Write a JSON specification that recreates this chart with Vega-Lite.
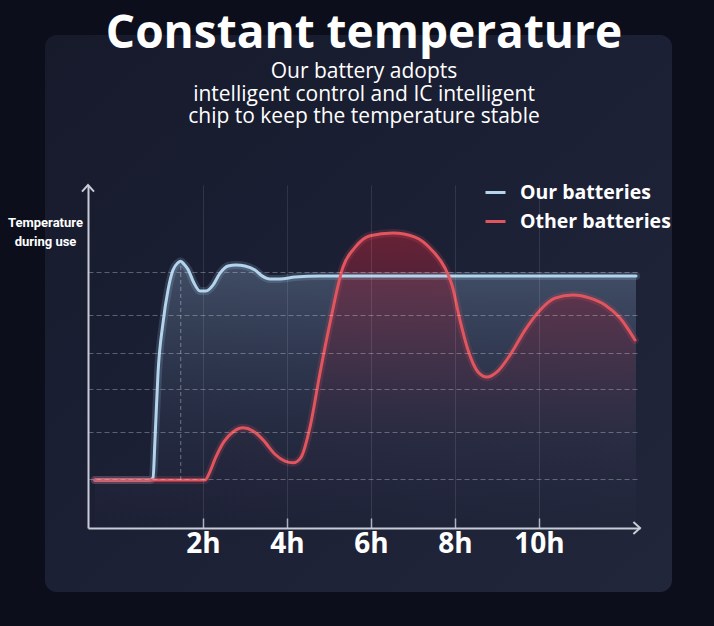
{
  "$schema": "https://vega.github.io/schema/vega-lite/v6.json",
  "width": 552,
  "height": 343,
  "autosize": {"type": "none"},
  "padding": {"left": 88, "top": 185, "right": 74, "bottom": 98},
  "background": "#0c0f1b",
  "config": {"view": {"stroke": null}, "font": "Open Sans"},
  "title": {
    "text": "Constant temperature",
    "subtitle": ["Our battery adopts", "intelligent control and IC intelligent", "chip to keep the temperature stable"],
    "anchor": "middle",
    "font": "Open Sans",
    "fontSize": 46,
    "fontWeight": "bold",
    "color": "#ffffff",
    "subtitleFont": "Open Sans",
    "subtitleFontSize": 21,
    "subtitleColor": "#ffffff",
    "subtitleLineHeight": 22.5,
    "subtitlePadding": 3,
    "offset": -93
  },
  "datasets": {
    "curves": [
      {"series": "Our batteries", "t": -0.571, "v": 14.0},
      {"series": "Our batteries", "t": 0.738, "v": 14.0},
      {"series": "Our batteries", "t": 0.81, "v": 14.6},
      {"series": "Our batteries", "t": 0.857, "v": 25.7},
      {"series": "Our batteries", "t": 0.929, "v": 45.2},
      {"series": "Our batteries", "t": 1.048, "v": 59.8},
      {"series": "Our batteries", "t": 1.167, "v": 69.4},
      {"series": "Our batteries", "t": 1.286, "v": 75.2},
      {"series": "Our batteries", "t": 1.4, "v": 77.3},
      {"series": "Our batteries", "t": 1.47, "v": 77.8},
      {"series": "Our batteries", "t": 1.55, "v": 76.9},
      {"series": "Our batteries", "t": 1.643, "v": 75.4},
      {"series": "Our batteries", "t": 1.786, "v": 71.4},
      {"series": "Our batteries", "t": 1.929, "v": 69.1},
      {"series": "Our batteries", "t": 2.071, "v": 69.1},
      {"series": "Our batteries", "t": 2.238, "v": 70.8},
      {"series": "Our batteries", "t": 2.405, "v": 74.3},
      {"series": "Our batteries", "t": 2.595, "v": 76.4},
      {"series": "Our batteries", "t": 2.786, "v": 76.7},
      {"series": "Our batteries", "t": 3.0, "v": 76.4},
      {"series": "Our batteries", "t": 3.238, "v": 75.2},
      {"series": "Our batteries", "t": 3.405, "v": 73.5},
      {"series": "Our batteries", "t": 3.595, "v": 72.6},
      {"series": "Our batteries", "t": 3.833, "v": 72.6},
      {"series": "Our batteries", "t": 4.19, "v": 73.2},
      {"series": "Our batteries", "t": 4.786, "v": 73.5},
      {"series": "Our batteries", "t": 12.31, "v": 73.5},
      {"series": "Other batteries", "t": -0.571, "v": 14.0},
      {"series": "Other batteries", "t": 2.048, "v": 14.0},
      {"series": "Other batteries", "t": 2.15, "v": 16.0},
      {"series": "Other batteries", "t": 2.3, "v": 20.5},
      {"series": "Other batteries", "t": 2.5, "v": 25.2},
      {"series": "Other batteries", "t": 2.714, "v": 28.0},
      {"series": "Other batteries", "t": 2.952, "v": 29.2},
      {"series": "Other batteries", "t": 3.19, "v": 28.3},
      {"series": "Other batteries", "t": 3.43, "v": 25.7},
      {"series": "Other batteries", "t": 3.714, "v": 21.5},
      {"series": "Other batteries", "t": 3.95, "v": 19.5},
      {"series": "Other batteries", "t": 4.15, "v": 19.0},
      {"series": "Other batteries", "t": 4.33, "v": 20.5},
      {"series": "Other batteries", "t": 4.548, "v": 29.4},
      {"series": "Other batteries", "t": 4.786, "v": 45.2},
      {"series": "Other batteries", "t": 5.024, "v": 59.8},
      {"series": "Other batteries", "t": 5.333, "v": 76.1},
      {"series": "Other batteries", "t": 5.619, "v": 81.8},
      {"series": "Other batteries", "t": 5.976, "v": 85.2},
      {"series": "Other batteries", "t": 6.524, "v": 86.0},
      {"series": "Other batteries", "t": 7.048, "v": 84.8},
      {"series": "Other batteries", "t": 7.452, "v": 81.0},
      {"series": "Other batteries", "t": 7.762, "v": 75.8},
      {"series": "Other batteries", "t": 7.929, "v": 70.8},
      {"series": "Other batteries", "t": 8.119, "v": 60.6},
      {"series": "Other batteries", "t": 8.31, "v": 51.9},
      {"series": "Other batteries", "t": 8.548, "v": 45.5},
      {"series": "Other batteries", "t": 8.762, "v": 44.0},
      {"series": "Other batteries", "t": 9.0, "v": 45.5},
      {"series": "Other batteries", "t": 9.31, "v": 50.4},
      {"series": "Other batteries", "t": 9.667, "v": 57.7},
      {"series": "Other batteries", "t": 10.024, "v": 63.5},
      {"series": "Other batteries", "t": 10.381, "v": 67.0},
      {"series": "Other batteries", "t": 10.81, "v": 67.9},
      {"series": "Other batteries", "t": 11.214, "v": 67.0},
      {"series": "Other batteries", "t": 11.571, "v": 65.0},
      {"series": "Other batteries", "t": 11.929, "v": 61.2},
      {"series": "Other batteries", "t": 12.286, "v": 54.8}
    ]
  },
  "layer": [
    {
      "data": {"values": [{"x0": -1.762, "x1": 13.167, "y0": -18.66, "y1": 143.7}]},
      "mark": {
        "type": "rect",
        "cornerRadius": 12,
        "fill": {"gradient": "linear", "x1": 0, "y1": 0, "x2": 1, "y2": 1,
          "stops": [{"offset": 0, "color": "#161a2b"}, {"offset": 0.5, "color": "#1c2035"}, {"offset": 1, "color": "#21263b"}]}
      },
      "encoding": {
        "x": {"field": "x0", "type": "quantitative"},
        "x2": {"field": "x1"},
        "y": {"field": "y0", "type": "quantitative"},
        "y2": {"field": "y1"}
      }
    },
    {
      "data": {"name": "curves"},
      "encoding": {
        "x": {
          "field": "t",
          "type": "quantitative",
          "scale": {"domain": [-0.738, 12.405], "nice": false, "zero": false},
          "axis": {
            "values": [2, 4, 6, 8, 10],
            "labelExpr": "datum.value + 'h'",
            "title": null,
            "domainColor": "#c8ccd6",
            "domainWidth": 2,
            "ticks": true,
            "tickColor": "#aeb3bf",
            "tickSize": -10,
            "tickWidth": 1.5,
            "labelColor": "#ffffff",
            "labelFont": "Open Sans",
            "labelFontSize": 28,
            "labelFontWeight": "bold",
            "labelPadding": 12,
            "labelBaseline": "top",
            "grid": true,
            "gridColor": "#ffffff",
            "gridOpacity": 0.1,
            "gridWidth": 1,
            "zindex": 1
          }
        },
        "y": {
          "field": "v",
          "type": "quantitative",
          "scale": {"domain": [0, 100], "nice": false, "zero": false},
          "axis": {
            "values": [14.3, 28, 40.5, 51, 62.1, 74.6],
            "labels": false,
            "ticks": false,
            "domainColor": "#c8ccd6",
            "domainWidth": 2,
            "grid": true,
            "gridColor": "#d8dce6",
            "gridOpacity": 0.35,
            "gridDash": [5, 3],
            "title": ["Temperature", "during use"],
            "titleAngle": 0,
            "titleAlign": "center",
            "titleBaseline": "top",
            "titleX": -43,
            "titleY": 31,
            "titleFont": "Roboto",
            "titleFontSize": 13,
            "titleFontWeight": "bold",
            "titleColor": "#ffffff",
            "titleLineHeight": 19,
            "zindex": 1
          }
        }
      },
      "layer": [
        {
          "transform": [{"filter": "datum.series == 'Our batteries'"}],
          "mark": {
            "type": "area",
            "interpolate": "monotone",
            "fill": {"gradient": "linear", "x1": 0, "y1": 0, "x2": 0, "y2": 1,
              "stops": [{"offset": 0, "color": "rgba(120,145,175,0.42)"}, {"offset": 0.55, "color": "rgba(90,110,140,0.18)"}, {"offset": 1, "color": "rgba(60,70,95,0.02)"}]}
          },
          "encoding": {"y2": {"datum": 0}}
        },
        {
          "transform": [{"filter": "datum.series == 'Other batteries'"}],
          "mark": {
            "type": "area",
            "interpolate": "monotone",
            "fill": {"gradient": "linear", "x1": 0, "y1": 0, "x2": 0, "y2": 1,
              "stops": [{"offset": 0, "color": "rgba(130,35,55,0.75)"}, {"offset": 0.35, "color": "rgba(110,35,58,0.4)"}, {"offset": 0.7, "color": "rgba(80,35,60,0.08)"}, {"offset": 1, "color": "rgba(60,35,60,0.0)"}]}
          },
          "encoding": {"y2": {"datum": 0}}
        },
        {
          "mark": {"type": "line", "interpolate": "monotone", "strokeWidth": 8, "opacity": 0.18, "strokeCap": "round"},
          "encoding": {
            "detail": {"field": "series"},
            "color": {"condition": {"test": "datum.series == 'Our batteries'", "value": "#9cc8ea"}, "value": "#e0505c"}
          }
        },
        {
          "mark": {"type": "line", "interpolate": "monotone", "strokeWidth": 3, "strokeCap": "round"},
          "encoding": {
            "color": {
              "field": "series",
              "type": "nominal",
              "scale": {"domain": ["Our batteries", "Other batteries"], "range": ["#b4d4ec", "#e0555e"]},
              "legend": {
                "orient": "none",
                "legendX": 396,
                "legendY": -4,
                "title": null,
                "padding": 0,
                "symbolType": "stroke",
                "symbolStrokeWidth": 3,
                "symbolSize": 400,
                "labelFont": "Open Sans",
                "labelFontSize": 19.5,
                "labelFontWeight": "bold",
                "labelColor": "#ffffff",
                "labelOffset": 13,
                "rowPadding": 8
              }
            }
          }
        }
      ]
    },
    {
      "data": {"values": [{"tx": 1.47, "lo": 14, "hi": 77}]},
      "mark": {"type": "rule", "strokeDash": [4, 3], "color": "#ffffff", "opacity": 0.35, "strokeWidth": 1},
      "encoding": {
        "x": {"field": "tx", "type": "quantitative"},
        "y": {"field": "lo", "type": "quantitative"},
        "y2": {"field": "hi"}
      }
    },
    {
      "data": {"values": [{"ax": -0.738, "ay": 100}]},
      "mark": {"type": "point", "shape": "M-1,1.1L0,0L1,1.1", "filled": false, "stroke": "#c8ccd6", "strokeWidth": 2, "size": 144, "opacity": 1},
      "encoding": {
        "x": {"field": "ax", "type": "quantitative"},
        "y": {"field": "ay", "type": "quantitative"}
      }
    },
    {
      "data": {"values": [{"ax": 12.405, "ay": 0}]},
      "mark": {"type": "point", "shape": "M-1.1,-1L0,0L-1.1,1", "filled": false, "stroke": "#c8ccd6", "strokeWidth": 2, "size": 144, "opacity": 1},
      "encoding": {
        "x": {"field": "ax", "type": "quantitative"},
        "y": {"field": "ay", "type": "quantitative"}
      }
    }
  ]
}
